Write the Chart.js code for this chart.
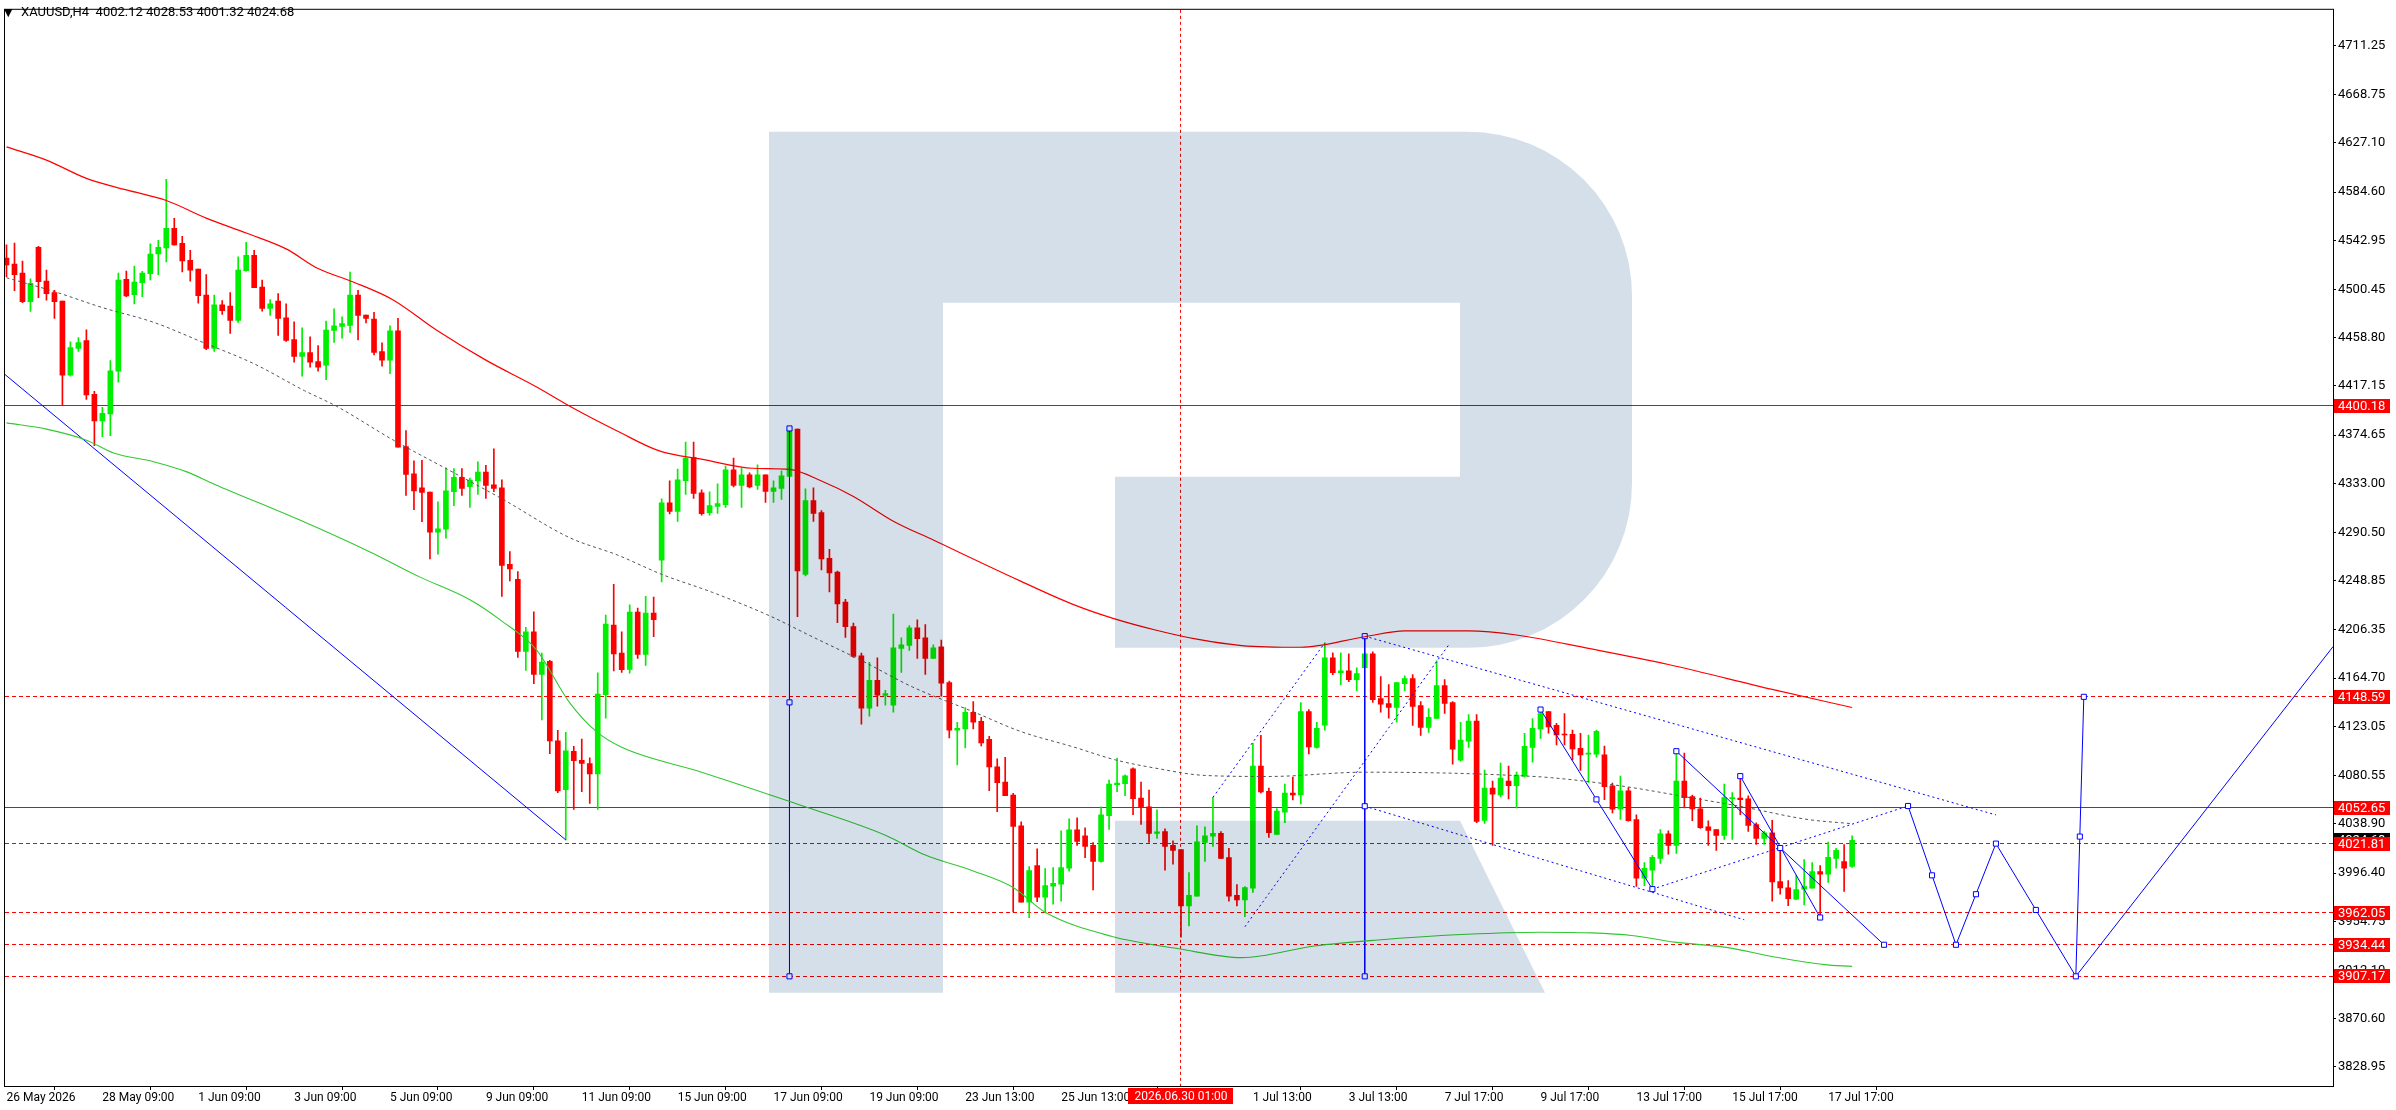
<!DOCTYPE html>
<html>
<head>
<meta charset="utf-8">
<title>XAUUSD,H4</title>
<script src="https://cdn.jsdelivr.net/npm/chart.js@4.4.1/dist/chart.umd.min.js"></script>
<style>
  html, body { margin: 0; padding: 0; background: #fff; }
  #wrap { width: 2396px; height: 1110px; }
</style>
</head>
<body>
<div id="wrap"><canvas id="chart"></canvas></div>
<script>
// H4 candles, one entry per bar (index = bar number from the left)
const opens = [
  4527.5, 4522.3, 4514.6, 4490.0, 4536.9, 4507.7, 4497.7, 4490.5, 4426.4, 4449.6,
  4456.2, 4409.8, 4386.9, 4393.0, 4429.9, 4509.2, 4496.0, 4506.3, 4514.0, 4531.2,
  4536.3, 4553.2, 4540.3, 4525.7, 4518.0, 4495.7, 4449.6, 4487.1, 4486.2, 4473.7,
  4516.6, 4530.0, 4502.6, 4484.0, 4490.5, 4476.0, 4457.1, 4442.7, 4445.9, 4438.2,
  4435.0, 4465.1, 4468.5, 4469.4, 4495.5, 4478.3, 4474.9, 4446.7, 4439.3, 4464.8,
  4364.8, 4341.2, 4329.2, 4325.5, 4290.9, 4293.3, 4325.9, 4338.1, 4330.2, 4335.1,
  4342.7, 4331.7, 4329.2, 4263.0, 4250.1, 4187.9, 4204.7, 4167.9, 4179.2, 4110.5,
  4068.5, 4101.6, 4093.7, 4091.0, 4082.0, 4150.4, 4210.5, 4186.3, 4172.3, 4221.8,
  4185.2, 4220.9, 4266.7, 4316.2, 4308.8, 4335.4, 4355.5, 4324.8, 4307.7, 4313.1,
  4314.5, 4344.6, 4331.1, 4340.3, 4331.1, 4340.3, 4326.0, 4328.6, 4338.9, 4379.8,
  4254.4, 4318.0, 4307.7, 4268.2, 4256.4, 4230.4, 4209.2, 4184.0, 4138.8, 4162.8,
  4149.7, 4141.4, 4190.3, 4192.9, 4208.1, 4199.5, 4181.7, 4191.7, 4160.8, 4119.9,
  4120.8, 4135.1, 4127.4, 4111.9, 4088.1, 4074.9, 4063.8, 4037.2, 3971.3, 4002.8,
  3975.6, 3985.1, 3986.8, 4000.5, 4033.7, 4028.6, 4020.3, 4006.5, 4046.0, 4072.7,
  4073.5, 4086.4, 4061.2, 4053.5, 4030.6, 4032.3, 4020.3, 4016.6, 3967.9, 3976.5,
  4022.9, 4028.3, 4030.6, 4009.7, 3977.1, 3973.1, 3983.4, 4088.7, 4066.9, 4029.7,
  4048.9, 4065.5, 4063.8, 4135.9, 4105.0, 4124.2, 4182.3, 4169.4, 4171.1, 4163.4,
  4173.7, 4185.7, 4147.1, 4142.8, 4139.4, 4160.0, 4164.3, 4141.1, 4122.2, 4129.9,
  4158.3, 4143.7, 4093.8, 4110.2, 4127.6, 4041.8, 4069.8, 4063.8, 4075.8, 4071.8,
  4080.1, 4105.0, 4120.8, 4135.9, 4123.9, 4116.2, 4116.2, 4104.1, 4099.0, 4099.0,
  4098.4, 4071.8, 4051.5, 4067.5, 4042.6, 3991.9, 3998.8, 4009.1, 4030.3, 4020.3,
  4075.8, 4062.4, 4051.8, 4036.3, 4034.0, 4028.9, 4060.6, 4061.2, 4060.4, 4038.3,
  4026.3, 4031.2, 3989.1, 3983.6, 3973.9, 3982.5, 3983.4, 3997.7, 3995.4, 4009.1,
  4006.3, 4002.12
];
const highs = [
  4538.9, 4540.6, 4524.9, 4509.7, 4537.8, 4517.2, 4499.7, 4490.5, 4455.3, 4458.8,
  4465.6, 4412.4, 4398.7, 4439.0, 4514.6, 4516.3, 4520.6, 4516.0, 4539.8, 4542.9,
  4595.6, 4561.8, 4546.4, 4534.3, 4518.0, 4513.2, 4495.7, 4490.8, 4497.7, 4528.6,
  4541.2, 4534.3, 4508.6, 4491.7, 4496.8, 4488.0, 4472.5, 4467.4, 4459.6, 4451.9,
  4473.1, 4483.8, 4476.7, 4515.4, 4499.7, 4478.3, 4480.7, 4454.4, 4469.1, 4475.5,
  4378.6, 4352.5, 4352.8, 4325.5, 4317.0, 4346.4, 4345.8, 4345.8, 4337.5, 4351.6,
  4348.6, 4362.7, 4336.0, 4274.0, 4256.8, 4208.7, 4221.9, 4186.3, 4180.2, 4119.7,
  4117.9, 4105.9, 4112.1, 4095.8, 4169.4, 4219.1, 4245.8, 4204.7, 4228.1, 4225.2,
  4235.5, 4234.7, 4319.7, 4335.1, 4345.4, 4368.6, 4368.6, 4327.4, 4325.7, 4332.6,
  4348.0, 4354.9, 4346.3, 4342.0, 4348.9, 4340.3, 4335.1, 4343.7, 4381.8, 4379.8,
  4328.3, 4329.1, 4309.4, 4275.9, 4257.3, 4232.9, 4212.3, 4186.3, 4178.3, 4182.3,
  4154.2, 4220.1, 4199.5, 4210.1, 4215.2, 4210.9, 4193.4, 4197.7, 4162.3, 4126.5,
  4139.4, 4144.5, 4130.8, 4114.5, 4095.0, 4096.4, 4065.2, 4040.6, 4001.9, 4017.4,
  4000.2, 4001.1, 4032.9, 4043.2, 4044.0, 4035.5, 4022.6, 4053.5, 4076.7, 4095.6,
  4081.3, 4087.3, 4075.0, 4068.1, 4050.9, 4034.6, 4024.3, 4016.6, 3996.8, 4037.2,
  4036.3, 4061.8, 4032.3, 4017.7, 3986.5, 3984.8, 4108.4, 4115.3, 4069.8, 4052.0,
  4073.2, 4079.2, 4143.6, 4137.6, 4126.5, 4195.2, 4186.6, 4186.6, 4185.7, 4173.7,
  4186.6, 4187.4, 4166.0, 4159.1, 4160.8, 4166.8, 4167.7, 4144.5, 4138.5, 4179.7,
  4163.4, 4144.5, 4126.5, 4133.3, 4133.3, 4085.3, 4075.8, 4091.3, 4088.7, 4083.5,
  4117.0, 4129.9, 4137.6, 4135.9, 4125.6, 4134.2, 4119.9, 4117.0, 4115.6, 4119.9,
  4106.1, 4074.1, 4080.1, 4070.1, 4046.6, 4005.4, 4011.7, 4034.0, 4032.9, 4101.6,
  4099.9, 4063.8, 4061.2, 4041.5, 4034.0, 4073.2, 4065.8, 4080.1, 4063.0, 4039.7,
  4032.6, 4042.0, 4018.9, 3989.9, 3994.5, 4008.0, 4005.4, 4002.8, 4023.2, 4017.7,
  4020.9, 4028.53
];
const lows = [
  4511.4, 4499.4, 4489.1, 4481.4, 4493.4, 4491.1, 4475.4, 4400.1, 4425.6, 4447.0,
  4405.5, 4365.5, 4373.2, 4374.1, 4420.4, 4494.3, 4488.0, 4494.3, 4508.6, 4513.2,
  4524.3, 4538.6, 4515.7, 4507.7, 4488.5, 4448.5, 4447.0, 4478.8, 4462.5, 4471.9,
  4516.3, 4502.0, 4481.7, 4478.0, 4460.8, 4455.6, 4437.6, 4425.6, 4433.3, 4429.9,
  4422.5, 4454.7, 4458.4, 4463.3, 4456.8, 4471.5, 4443.9, 4434.1, 4427.7, 4364.2,
  4322.5, 4310.2, 4299.8, 4267.6, 4271.9, 4285.7, 4313.6, 4322.5, 4312.1, 4323.4,
  4320.0, 4325.9, 4235.4, 4248.6, 4182.6, 4171.3, 4159.9, 4128.7, 4099.5, 4065.8,
  4025.0, 4051.4, 4066.7, 4056.6, 4051.4, 4130.2, 4171.0, 4169.7, 4169.1, 4181.7,
  4175.7, 4200.6, 4247.8, 4306.5, 4300.2, 4323.4, 4320.0, 4305.4, 4305.4, 4307.1,
  4312.2, 4330.0, 4312.2, 4329.1, 4327.7, 4316.5, 4316.5, 4319.1, 4338.9, 4217.8,
  4253.0, 4300.2, 4258.1, 4239.3, 4212.6, 4199.8, 4182.6, 4125.0, 4131.9, 4140.5,
  4141.4, 4135.4, 4169.7, 4188.6, 4181.7, 4168.0, 4181.7, 4149.1, 4113.0, 4089.8,
  4104.4, 4120.8, 4106.2, 4067.5, 4049.5, 4063.2, 3962.8, 3971.3, 3957.9, 3971.6,
  3961.9, 3969.6, 3972.2, 3998.0, 4020.3, 4009.7, 3981.9, 4005.7, 4034.0, 4066.7,
  4063.2, 4046.9, 4038.3, 4022.9, 4026.3, 3998.8, 4004.0, 3941.0, 3950.7, 3976.5,
  4006.5, 4019.4, 4009.1, 3972.2, 3967.9, 3958.7, 3979.6, 4065.5, 4027.2, 4029.7,
  4039.8, 4059.5, 4056.1, 4099.3, 4104.2, 4119.9, 4167.7, 4159.1, 4161.7, 4153.9,
  4173.7, 4143.7, 4135.3, 4130.2, 4126.8, 4153.9, 4123.9, 4115.3, 4117.9, 4129.9,
  4134.2, 4090.4, 4093.0, 4105.0, 4039.8, 4039.2, 4020.3, 4062.1, 4060.4, 4052.6,
  4079.2, 4092.1, 4112.7, 4117.3, 4107.0, 4107.0, 4094.1, 4085.0, 4074.7, 4096.4,
  4059.8, 4048.3, 4042.6, 4041.2, 3984.8, 3985.4, 3982.5, 4004.8, 4012.6, 4013.4,
  4052.6, 4041.7, 4034.9, 4020.3, 4016.0, 4025.4, 4025.4, 4046.9, 4032.3, 4021.1,
  4021.1, 3972.2, 3978.2, 3968.2, 3973.3, 3968.8, 3983.4, 3960.2, 3988.2, 4000.5,
  3980.5, 4001.32
];
const closes = [
  4521.7, 4513.2, 4490.0, 4505.7, 4507.1, 4496.8, 4490.0, 4426.4, 4450.2, 4454.5,
  4409.3, 4386.9, 4393.5, 4430.2, 4508.6, 4494.8, 4506.9, 4514.6, 4530.9, 4536.9,
  4553.2, 4538.9, 4525.2, 4517.2, 4495.1, 4449.6, 4487.1, 4482.2, 4473.7, 4517.2,
  4530.0, 4502.0, 4484.0, 4488.0, 4475.4, 4456.5, 4442.7, 4445.9, 4437.6, 4433.3,
  4465.4, 4469.1, 4470.9, 4495.5, 4478.0, 4475.5, 4446.1, 4439.3, 4464.8, 4364.2,
  4340.6, 4326.5, 4325.2, 4290.9, 4293.6, 4326.5, 4338.1, 4328.6, 4335.7, 4342.7,
  4331.1, 4328.6, 4262.1, 4259.0, 4187.9, 4204.7, 4167.9, 4178.6, 4110.5, 4067.3,
  4101.9, 4093.4, 4091.0, 4082.0, 4151.0, 4211.5, 4185.7, 4172.0, 4221.8, 4185.2,
  4220.9, 4215.2, 4316.2, 4308.8, 4336.0, 4354.9, 4324.3, 4306.8, 4313.7, 4315.4,
  4344.6, 4331.1, 4340.3, 4330.0, 4340.3, 4326.0, 4329.1, 4339.4, 4379.8, 4257.3,
  4318.0, 4307.1, 4267.6, 4255.6, 4228.9, 4209.2, 4183.4, 4138.8, 4162.8, 4150.0,
  4151.4, 4190.9, 4193.5, 4208.1, 4198.9, 4181.7, 4190.9, 4160.3, 4119.9, 4121.3,
  4135.1, 4126.8, 4108.7, 4088.1, 4074.4, 4063.2, 4036.6, 3971.3, 3998.5, 3975.6,
  3985.6, 3987.4, 4001.1, 4033.7, 4023.7, 4019.4, 4006.5, 4046.6, 4073.2, 4074.1,
  4080.4, 4060.6, 4052.9, 4030.6, 4032.0, 4019.4, 4016.0, 3967.9, 3977.1, 4023.4,
  4028.6, 4030.6, 4009.1, 3976.5, 3973.1, 3983.9, 4088.7, 4066.4, 4031.2, 4050.0,
  4065.5, 4063.8, 4135.9, 4105.3, 4121.3, 4182.3, 4169.4, 4171.1, 4163.4, 4168.6,
  4185.7, 4146.2, 4142.2, 4139.4, 4160.8, 4164.3, 4140.2, 4122.2, 4130.8, 4158.3,
  4142.8, 4103.3, 4111.3, 4127.6, 4040.9, 4069.8, 4064.6, 4078.4, 4071.8, 4080.9,
  4105.9, 4121.3, 4134.2, 4122.5, 4115.6, 4115.6, 4103.6, 4098.4, 4099.9, 4118.7,
  4070.9, 4051.5, 4067.5, 4041.7, 3991.9, 4000.5, 4010.0, 4030.3, 4020.3, 4075.8,
  4061.5, 4051.8, 4035.5, 4033.2, 4028.9, 4061.5, 4061.2, 4059.8, 4037.5, 4026.3,
  4031.2, 3988.8, 3983.6, 3974.2, 3982.2, 3984.8, 3997.7, 3995.4, 4010.0, 4016.0,
  4000.5, 4024.68
];

// moving averages, [bar, price]
const redMa = [[0,4623.6],[5,4612.2],[10,4596.4],[15,4586.4],[20,4577.3],[25,4562.1],[30,4549.2],
  [35,4535.5],[39,4518.5],[43.4,4506.9],[48.4,4491.4],[53.8,4465.4],[60,4439.4],[66.3,4416.4],
  [70.5,4399.6],[76.5,4378],[81.7,4361],[87.3,4353.5],[93.4,4346],[98,4345],[102,4335],
  [106,4321.7],[111,4300.3],[116,4284],[127,4248.3],[133.4,4228.7],[138.4,4216.6],[143.8,4206.3],
  [148.8,4198.6],[154.6,4192.9],[162,4191.4],[170,4200.5],[175,4205.5],[183,4205.5],[189,4202],
  [198,4190.4],[208,4176.5],[221,4155],[231,4139.4]];
const grayMa = [[0,4510.6],[6,4498.6],[12,4484.8],[18.4,4472.1],[24.6,4454.7],[31,4436.2],
  [37.3,4413],[41.3,4399.6],[48.4,4370.4],[55,4345.8],[62,4319.7],[70.5,4286],[76.5,4271],
  [82,4254.4],[88.4,4238.7],[95.5,4218.6],[101,4200],[107,4180],[113.4,4157.1],[121,4135.7],
  [127,4118.5],[133.4,4105.6],[138.8,4094.1],[143.8,4087],[150,4080.7],[158,4079.8],[170,4083.5],
  [180.5,4082.7],[187,4081.2],[193.4,4078.7],[202.5,4071.2],[211,4061.2],[217,4054],
  [225.5,4042.6],[231,4039]];
const greenMa = [[0,4385.2],[5,4379.8],[10,4370.3],[13.4,4359.2],[18.4,4351.7],[22.5,4343.1],
  [26,4332.3],[37,4300.4],[45.5,4273.7],[51.7,4252.2],[58,4232.4],[62,4214],[66.3,4189.4],
  [70.5,4143.4],[73.8,4118.7],[77,4105],[87,4083.5],[98.6,4056.8],[110,4029.1],[115,4011.9],
  [121,3998.2],[126,3983.9],[130,3962.5],[138.4,3941.6],[146.7,3931],[154.6,3923.3],
  [163.7,3933.4],[171.3,3938.4],[182.8,3943.5],[192,3945.3],[198.4,3944.7],[203.4,3942.5],
  [208.8,3936.7],[215,3932.4],[221.3,3923.9],[227.5,3917.3],[231,3915.8]];

// drawn objects, [bar, price]
const trendDown = [[-0.19,4427],[70,4025]];
const waveA = [[192,4137.6],[199,4060],[206,3982.5]];
const waveB = [[209,4101.6],[222,4018],[235,3934.44]];
const waveC = [[217,4080.1],[227,3958]];
const forecast = [[238,4054.3],[241,3994.4],[244,3934.44],[246.5,3978.1],[249,4021.81],
  [254,3964.5],[259,3907.17],[259.5,4027.9],[260,4148.59]];
const forecastUp = [[259,3907.17],[291.2,4192]];
const cycleA = [[98,4380.4],[98,4143.8],[98,3907.17]];
const cycleB = [[170,4201],[170,4054.1],[170,3907.17]];
const dotUp1 = [[151,4061.8],[165,4195.2]];
const dotUp2 = [[155,3950],[180.6,4194.3]];
const channelTop = [[170,4201],[249,4046.6]];
const channelLow = [[170,4054.1],[217.5,3956]];
const dotUp3 = [[206,3982.5],[238,4054.3]];

// horizontal levels
const solidLevels = [4400.18, 4052.65];
const dashLevels = [4148.59, 4021.81, 3962.05, 3934.44, 3907.17];
const lastPrice = 4024.68;

// axes
const yTicks = [3828.95, 3870.60, 3912.10, 3954.75, 3996.40, 4038.90, 4080.55, 4123.05, 4164.70,
  4206.35, 4248.85, 4290.50, 4333.00, 4374.65, 4417.15, 4458.80, 4500.45, 4542.95, 4584.60,
  4627.10, 4668.75, 4711.25];
const xTickPos = [0, 12, 24, 36, 48, 60, 72, 84, 96, 108, 120, 132, 156, 168, 180, 192, 204, 216, 228];
const xTickText = ['26 May 2026', '28 May 09:00', '1 Jun 09:00', '3 Jun 09:00', '5 Jun 09:00',
  '9 Jun 09:00', '11 Jun 09:00', '15 Jun 09:00', '17 Jun 09:00', '19 Jun 09:00', '23 Jun 13:00',
  '25 Jun 13:00', '1 Jul 13:00', '3 Jul 13:00', '7 Jul 17:00', '9 Jul 17:00', '13 Jul 17:00',
  '15 Jul 17:00', '17 Jul 17:00'];
const crossBar = 147;
const crossText = '2026.06.30 01:00';
const headerText = 'XAUUSD,H4  4002.12 4028.53 4001.32 4024.68';

const FONT = 'Roboto, "DejaVu Sans", sans-serif';
const BULL = '#00ee00';
const BEAR = '#ff0000';
const BLUE = '#0000ff';

const pts = arr => arr.map(p => ({ x: p[0], y: p[1] }));
const candleColor = opens.map((o, i) => closes[i] >= o ? BULL : BEAR);

function line(data, opts) {
    return Object.assign({
        type: 'line',
        data: pts(data),
        borderColor: BLUE,
        borderWidth: 1,
        pointRadius: 0,
        tension: 0,
        fill: false,
        order: 1
    }, opts);
}
const squares = {
    pointRadius: 3.6,
    pointStyle: 'rect',
    pointBackgroundColor: '#ffffff',
    pointBorderColor: BLUE,
    pointBorderWidth: 1
};
const dotted = { borderDash: [2, 3] };

// background, levels, logo, frame and axis boxes
const decor = {
    id: 'decor',
    beforeDraw(chart) {
        const ctx = chart.ctx;
        ctx.save();
        ctx.fillStyle = '#ffffff';
        ctx.fillRect(0, 0, chart.width, chart.height);
        ctx.restore();
    },
    beforeDatasetsDraw(chart) {
        const { ctx, chartArea: a, scales: { x, y } } = chart;
        ctx.save();
        ctx.beginPath();
        ctx.rect(a.left, a.top, a.right - a.left, a.bottom - a.top);
        ctx.clip();
        ctx.strokeStyle = '#ff0000';
        ctx.lineWidth = 1;
        solidLevels.forEach(v => {
            const py = Math.floor(y.getPixelForValue(v)) + 0.5;
            ctx.setLineDash([]);
            ctx.beginPath(); ctx.moveTo(a.left, py); ctx.lineTo(a.right, py); ctx.stroke();
        });
        dashLevels.forEach(v => {
            const py = Math.floor(y.getPixelForValue(v)) + 0.5;
            ctx.setLineDash([4, 3]);
            ctx.beginPath(); ctx.moveTo(a.left, py); ctx.lineTo(a.right, py); ctx.stroke();
        });
        const px = Math.floor(x.getPixelForValue(crossBar)) + 0.5;
        ctx.setLineDash([3, 3]);
        ctx.beginPath(); ctx.moveTo(px, a.top); ctx.lineTo(px, a.bottom); ctx.stroke();
        ctx.restore();
    },
    afterDatasetsDraw(chart) {
        // broker watermark, multiplied over the plot
        const { ctx, chartArea: a } = chart;
        const L = a.left - 2, T = a.top - 2;
        ctx.save();
        ctx.beginPath();
        ctx.rect(a.left, a.top, a.right - a.left, a.bottom - a.top);
        ctx.clip();
        ctx.globalCompositeOperation = 'multiply';
        ctx.fillStyle = 'rgb(213,223,234)';
        ctx.beginPath();
        ctx.moveTo(L + 766, T + 124);
        ctx.lineTo(L + 1465, T + 124);
        ctx.arcTo(L + 1629, T + 124, L + 1629, T + 288, 164);
        ctx.lineTo(L + 1629, T + 476);
        ctx.arcTo(L + 1629, T + 640, L + 1465, T + 640, 164);
        ctx.lineTo(L + 1112, T + 640);
        ctx.lineTo(L + 1112, T + 469);
        ctx.lineTo(L + 940, T + 469);
        ctx.lineTo(L + 940, T + 985);
        ctx.lineTo(L + 766, T + 985);
        ctx.closePath();
        ctx.moveTo(L + 940, T + 295);
        ctx.lineTo(L + 1457, T + 295);
        ctx.lineTo(L + 1457, T + 469);
        ctx.lineTo(L + 940, T + 469);
        ctx.closePath();
        ctx.fill('evenodd');
        ctx.beginPath();
        ctx.moveTo(L + 1112, T + 813);
        ctx.lineTo(L + 1457, T + 813);
        ctx.lineTo(L + 1542, T + 985);
        ctx.lineTo(L + 1112, T + 985);
        ctx.closePath();
        ctx.fill();
        ctx.restore();
    },
    afterDraw(chart) {
        const { ctx, chartArea: a, scales: { x, y } } = chart;
        ctx.save();
        // frame
        ctx.strokeStyle = '#000000';
        ctx.lineWidth = 1;
        ctx.strokeRect(a.left - 0.5, a.top - 0.5, a.right - a.left + 1, a.bottom - a.top + 1);

        // header
        ctx.fillStyle = '#000000';
        ctx.textBaseline = 'middle';
        ctx.font = '11px ' + FONT;
        ctx.fillText('\u25BC', 4, 13);
        ctx.font = '13px ' + FONT;
        ctx.fillText(headerText, 21, 13);

        // price boxes on the right axis
        ctx.font = '13px ' + FONT;
        const box = (v, bg) => {
            const py = Math.round(y.getPixelForValue(v));
            ctx.fillStyle = bg;
            ctx.fillRect(a.right + 1, py - 7, 56, 14);
            ctx.fillStyle = '#ffffff';
            ctx.fillText(v.toFixed(2), a.right + 5, py + 0.5);
        };
        box(lastPrice, '#000000');
        solidLevels.concat(dashLevels).forEach(v => box(v, '#ff0000'));

        // crosshair time box
        const px = x.getPixelForValue(crossBar);
        ctx.font = '12px ' + FONT;
        const w = ctx.measureText(crossText).width + 12;
        ctx.fillStyle = '#ff0000';
        ctx.fillRect(Math.round(px - w / 2), a.bottom + 2, Math.round(w), 16);
        ctx.fillStyle = '#ffffff';
        ctx.textAlign = 'center';
        ctx.fillText(crossText, px, a.bottom + 10.5);
        ctx.restore();
    }
};

Chart.defaults.font.family = FONT;
Chart.defaults.color = '#000000';

new Chart(document.getElementById('chart'), {
    type: 'bar',
    data: {
        datasets: [
            line(redMa, { borderColor: '#ff0000', borderWidth: 1.2, cubicInterpolationMode: 'monotone' }),
            line(grayMa, { borderColor: '#555555', borderDash: [3, 3], cubicInterpolationMode: 'monotone' }),
            line(greenMa, { borderColor: '#32c832', borderWidth: 1.1, cubicInterpolationMode: 'monotone' }),
            line(trendDown),
            line(waveA, squares),
            line(waveB, squares),
            line(waveC, squares),
            line(forecast, squares),
            line(forecastUp),
            line(cycleA, squares),
            line(cycleB, squares),
            line(dotUp1, dotted),
            line(dotUp2, dotted),
            line(channelTop, dotted),
            line(channelLow, dotted),
            line(dotUp3, dotted),
            {
                type: 'bar',
                data: opens.map((o, i) => ({ x: i, y: [o, closes[i]] })),
                backgroundColor: candleColor,
                barThickness: 5,
                minBarLength: 1,
                grouped: false,
                order: 2
            },
            {
                type: 'bar',
                data: opens.map((o, i) => ({ x: i, y: [lows[i], highs[i]] })),
                backgroundColor: candleColor,
                barThickness: 1,
                grouped: false,
                order: 3
            }
        ]
    },
    options: {
        responsive: true,
        maintainAspectRatio: false,
        devicePixelRatio: 1,
        animation: false,
        layout: { padding: { left: 2, top: 2, right: 0, bottom: 0 } },
        plugins: {
            legend: { display: false },
            tooltip: { enabled: false }
        },
        scales: {
            x: {
                type: 'linear',
                min: -0.1875,
                max: 291.1875,
                offset: false,
                afterFit: scale => { scale.height = 24; },
                afterBuildTicks: scale => { scale.ticks = xTickPos.map(v => ({ value: v })); },
                grid: { drawOnChartArea: false, drawTicks: true, tickLength: 4, color: '#000000' },
                border: { display: false },
                ticks: {
                    autoSkip: false,
                    maxRotation: 0,
                    align: 'start',
                    padding: 1,
                    font: { size: 12 },
                    color: '#000000',
                    callback: (v, i) => xTickText[i]
                }
            },
            y: {
                type: 'linear',
                position: 'right',
                min: 3812.45,
                max: 4742.0,
                afterFit: scale => { scale.width = 63; },
                afterBuildTicks: scale => { scale.ticks = yTicks.map(v => ({ value: v })); },
                grid: { drawOnChartArea: false, drawTicks: true, tickLength: 3, color: '#000000' },
                border: { display: false },
                ticks: {
                    autoSkip: false,
                    padding: 2,
                    font: { size: 13 },
                    color: '#000000',
                    callback: v => v.toFixed(2)
                }
            }
        }
    },
    plugins: [decor]
});
</script>
</body>
</html>
